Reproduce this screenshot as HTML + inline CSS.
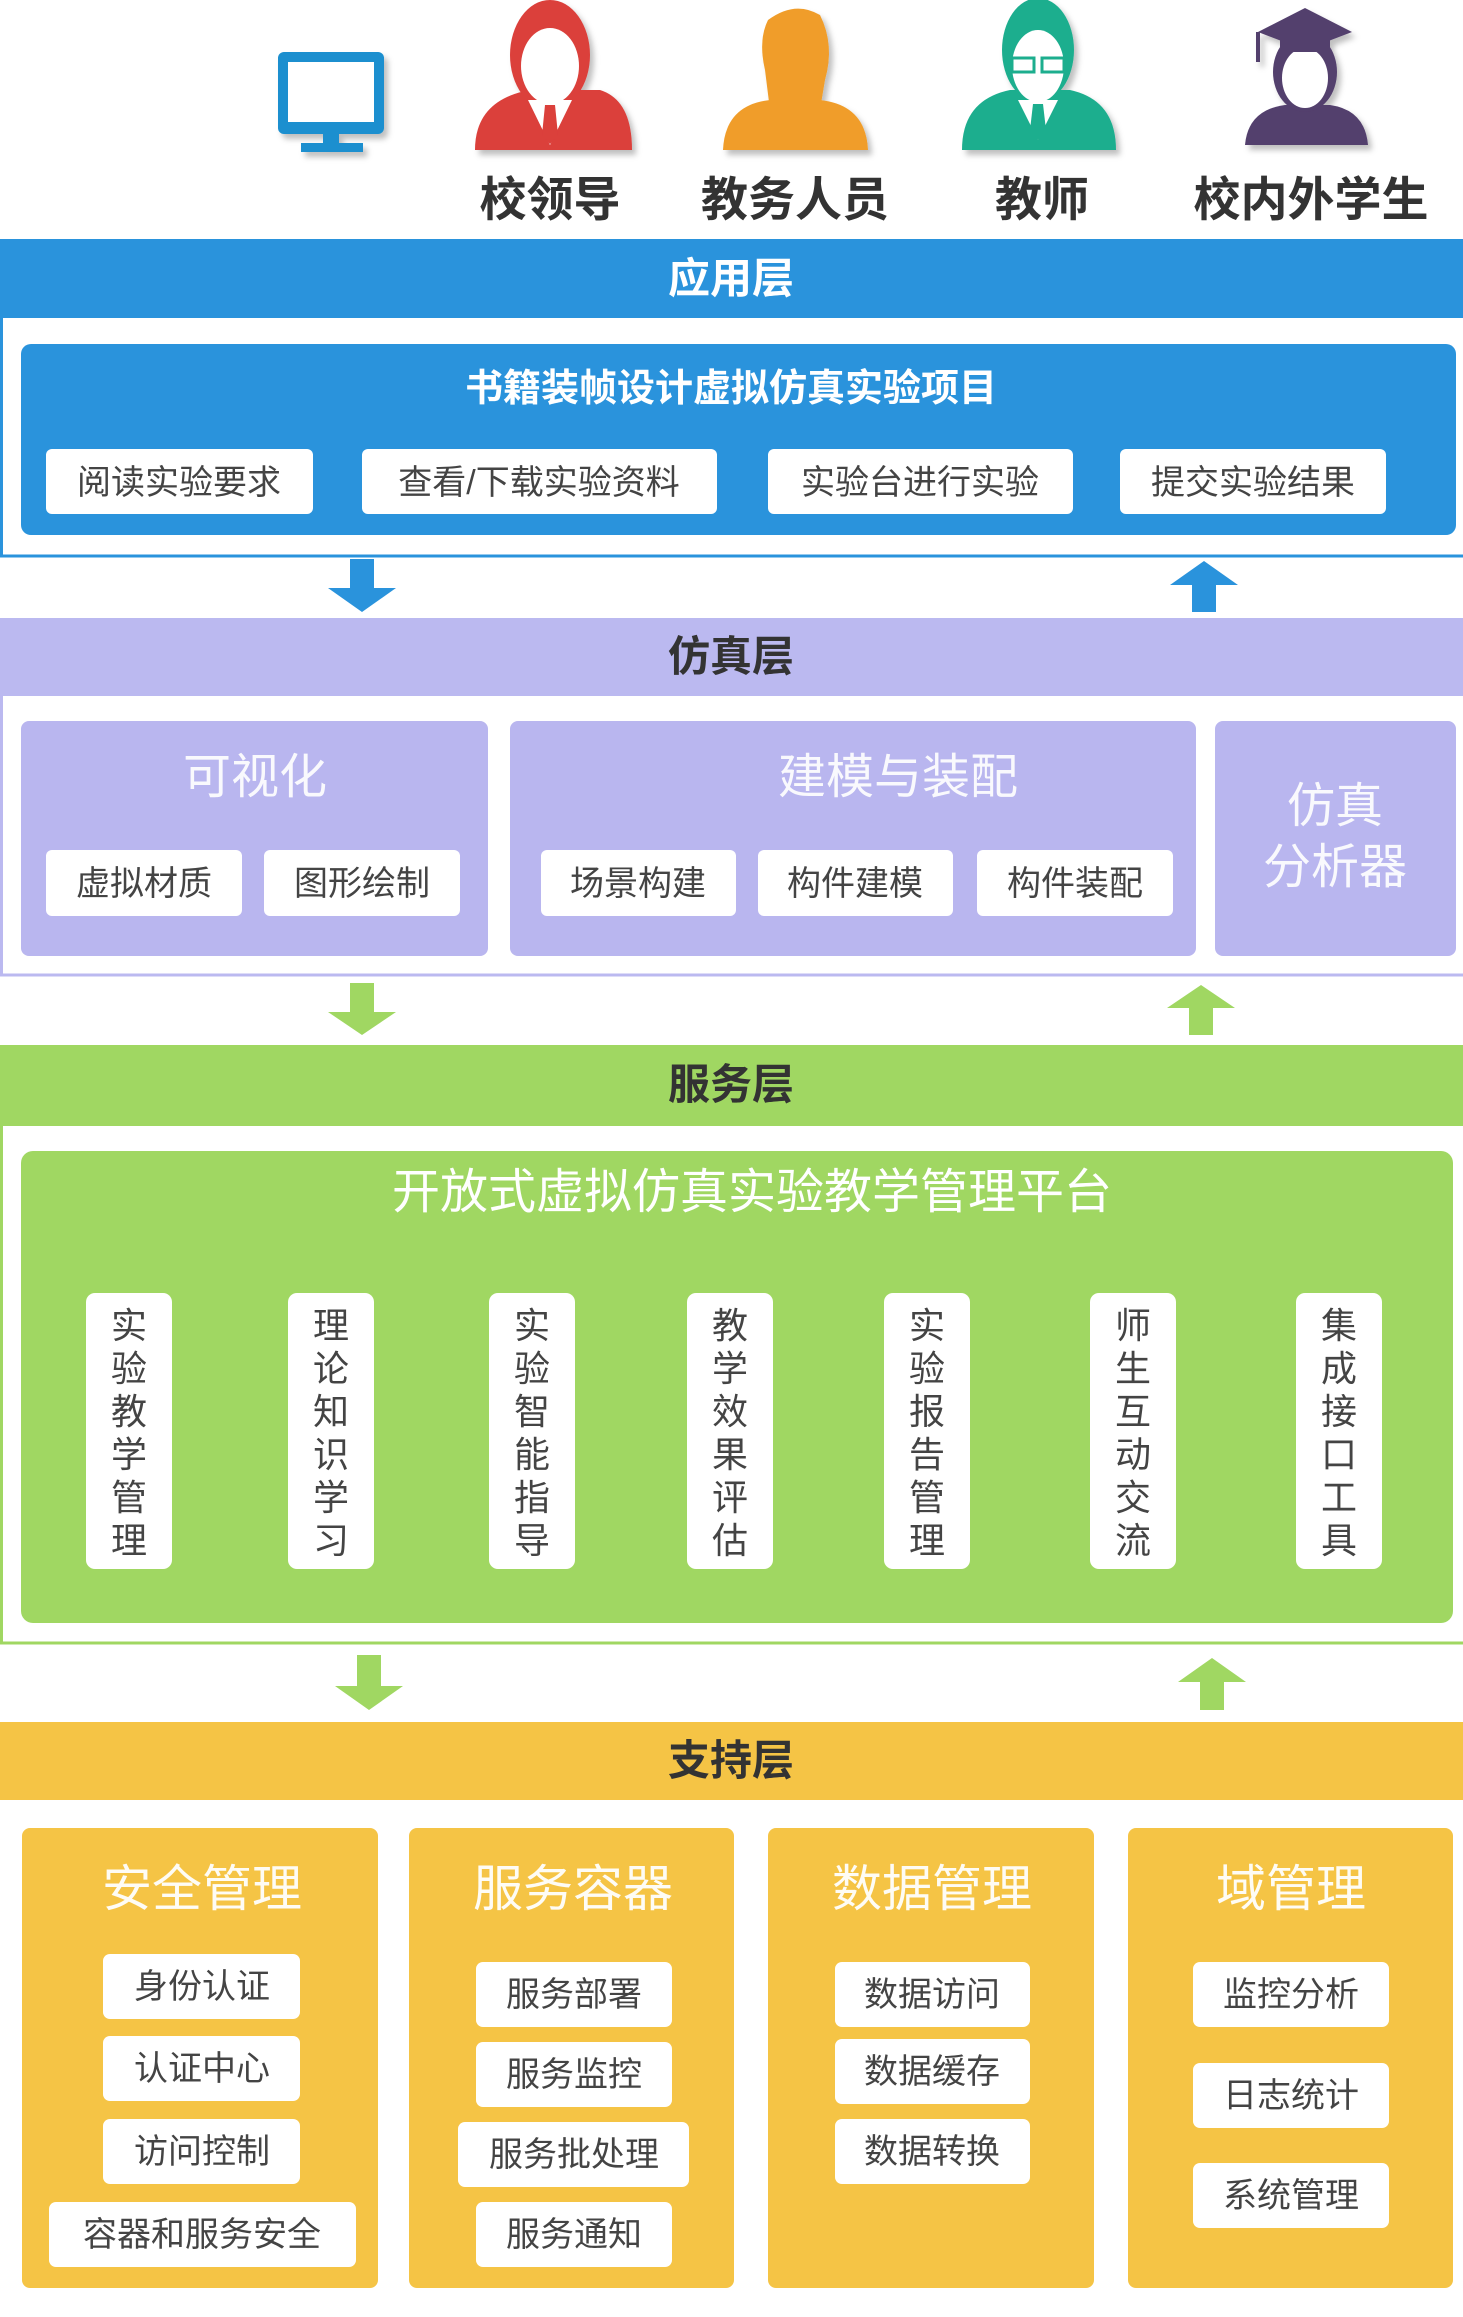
<!DOCTYPE html>
<html><head><meta charset="utf-8"><style>
html,body{margin:0;padding:0;background:#fff}
svg{display:block}
text{font-family:"Liberation Sans","Noto Sans CJK SC",sans-serif}
</style></head><body>
<svg width="1463" height="2317" viewBox="0 0 1463 2317" xmlns="http://www.w3.org/2000/svg">
<defs>
<filter id="sh" x="-10%" y="-10%" width="130%" height="130%"><feDropShadow dx="4" dy="5" stdDeviation="3" flood-color="#000" flood-opacity="0.25"/></filter>
</defs>
<!-- Icons -->
<g filter="url(#sh)">
<rect x="278" y="52" width="106" height="82" rx="6" fill="#1a8fcf"/>
<rect x="288" y="62" width="86" height="60" fill="#fff"/>
<rect x="323" y="134" width="16" height="12" fill="#1a8fcf"/>
<rect x="301" y="143" width="62" height="9" fill="#1a8fcf"/>
<!-- red leader -->
<path d="M475 150 Q475 100 530 90 L600 90 Q632 100 632 150 Z" fill="#db3f3b"/>
<ellipse cx="550" cy="55" rx="40" ry="55" fill="#db3f3b"/>
<ellipse cx="550" cy="66" rx="29" ry="38" fill="#fff"/>
<path d="M528 100 L550 145 L572 100 Z" fill="#fff"/>
<path d="M545 105 L555 105 L558 135 L550 144 L542 135 Z" fill="#db3f3b"/>
<!-- orange staff -->
<path d="M723 150 Q725 105 770 100 L820 100 Q866 105 868 150 Z" fill="#f09d2a"/>
<path d="M768 20 Q795 0 820 15 Q835 45 825 80 L820 110 L770 110 L765 70 Q758 40 768 20 Z" fill="#f09d2a"/>
<!-- green teacher -->
<path d="M962 150 Q962 100 1010 90 L1070 90 Q1116 100 1116 150 Z" fill="#1dae8e"/>
<ellipse cx="1038" cy="50" rx="36" ry="52" fill="#1dae8e"/>
<ellipse cx="1038" cy="66" rx="26" ry="36" fill="#fff"/>
<path d="M1018 100 L1038 140 L1058 100 Z" fill="#fff"/>
<path d="M1033 104 L1043 104 L1046 130 L1038 140 L1030 130 Z" fill="#1dae8e"/>
<rect x="1012" y="58" width="22" height="14" fill="none" stroke="#1dae8e" stroke-width="3"/>
<rect x="1042" y="58" width="22" height="14" fill="none" stroke="#1dae8e" stroke-width="3"/>
<!-- purple student -->
<path d="M1245 145 Q1248 110 1285 105 L1330 105 Q1365 110 1368 145 Z" fill="#533f6d"/>
<ellipse cx="1305" cy="72" rx="32" ry="40" fill="#533f6d"/>
<ellipse cx="1305" cy="78" rx="23" ry="30" fill="#fff"/>
<path d="M1305 8 L1352 32 L1305 50 L1258 32 Z" fill="#533f6d"/>
<rect x="1280" y="38" width="50" height="14" fill="#533f6d"/>
<rect x="1256" y="32" width="4" height="30" fill="#533f6d"/>
</g>
<g font-size="47" font-weight="bold" fill="#333" text-anchor="middle">
<text x="550" y="216">校领导</text>
<text x="795" y="216">教务人员</text>
<text x="1042" y="216">教师</text>
<text x="1311" y="216">校内外学生</text>
</g>

<!-- Application layer -->
<rect x="0" y="239" width="1463" height="79" fill="#2a93dc"/>
<text x="731" y="293" font-size="42" font-weight="bold" fill="#fff" text-anchor="middle">应用层</text>
<path d="M1.5 318 V556 H1463" fill="none" stroke="#2a93dc" stroke-width="3"/>
<rect x="21" y="344" width="1435" height="191" rx="10" fill="#2a93dc"/>
<text x="731" y="401" font-size="38" font-weight="bold" fill="#fff" text-anchor="middle">书籍装帧设计虚拟仿真实验项目</text>
<g fill="#fff"><rect x="46" y="449" width="267" height="65" rx="6"/><rect x="362" y="449" width="355" height="65" rx="6"/><rect x="768" y="449" width="305" height="65" rx="6"/><rect x="1120" y="449" width="266" height="65" rx="6"/></g>
<g font-size="34" fill="#444" text-anchor="middle">
<text x="179" y="494">阅读实验要求</text><text x="539" y="494">查看/下载实验资料</text><text x="920" y="494">实验台进行实验</text><text x="1253" y="494">提交实验结果</text>
</g>
<polygon points="350,559 374,559 374,588 396,588 362,612 328,588 350,588" fill="#2a93dc"/>
<polygon points="1192,612 1216,612 1216,585 1238,585 1204,561 1170,585 1192,585" fill="#2a93dc"/>

<!-- Simulation layer -->
<rect x="0" y="618" width="1463" height="78" fill="#bbb9f0"/>
<text x="731" y="671" font-size="42" font-weight="bold" fill="#333" text-anchor="middle">仿真层</text>
<path d="M1.5 696 V975 H1463" fill="none" stroke="#bbb9f0" stroke-width="3"/>
<g fill="#b9b6ef"><rect x="21" y="721" width="467" height="235" rx="8"/><rect x="510" y="721" width="686" height="235" rx="8"/><rect x="1215" y="721" width="241" height="235" rx="8"/></g>
<g font-size="48" fill="#fff" text-anchor="middle" opacity="0.92">
<text x="255" y="793">可视化</text><text x="898" y="793">建模与装配</text><text x="1335" y="822">仿真</text><text x="1335" y="883">分析器</text>
</g>
<g fill="#fff"><rect x="46" y="850" width="196" height="66" rx="6"/><rect x="264" y="850" width="196" height="66" rx="6"/><rect x="541" y="850" width="195" height="66" rx="6"/><rect x="758" y="850" width="195" height="66" rx="6"/><rect x="977" y="850" width="196" height="66" rx="6"/></g>
<g font-size="34" fill="#444" text-anchor="middle">
<text x="144" y="895">虚拟材质</text><text x="362" y="895">图形绘制</text><text x="638" y="895">场景构建</text><text x="855" y="895">构件建模</text><text x="1075" y="895">构件装配</text>
</g>
<polygon points="350,983 374,983 374,1012 396,1012 362,1035 328,1012 350,1012" fill="#a0d762"/>
<polygon points="1189,1035 1213,1035 1213,1008 1235,1008 1201,985 1167,1008 1189,1008" fill="#a0d762"/>

<!-- Service layer -->
<rect x="0" y="1045" width="1463" height="81" fill="#a0d762"/>
<text x="731" y="1099" font-size="42" font-weight="bold" fill="#333" text-anchor="middle">服务层</text>
<path d="M1.5 1126 V1643 H1463" fill="none" stroke="#a0d762" stroke-width="3"/>
<rect x="21" y="1151" width="1432" height="472" rx="12" fill="#a0d762"/>
<text x="752" y="1208" font-size="48" fill="#fff" text-anchor="middle">开放式虚拟仿真实验教学管理平台</text>
<g fill="#fff">
<rect x="86" y="1293" width="86" height="276" rx="9"/><rect x="288" y="1293" width="86" height="276" rx="9"/><rect x="489" y="1293" width="86" height="276" rx="9"/><rect x="687" y="1293" width="86" height="276" rx="9"/><rect x="884" y="1293" width="86" height="276" rx="9"/><rect x="1090" y="1293" width="86" height="276" rx="9"/><rect x="1296" y="1293" width="86" height="276" rx="9"/>
</g>
<g font-size="36" fill="#444" text-anchor="middle">
<text x="129" y="1338">实</text><text x="129" y="1381">验</text><text x="129" y="1424">教</text><text x="129" y="1467">学</text><text x="129" y="1510">管</text><text x="129" y="1553">理</text>
<text x="331" y="1338">理</text><text x="331" y="1381">论</text><text x="331" y="1424">知</text><text x="331" y="1467">识</text><text x="331" y="1510">学</text><text x="331" y="1553">习</text>
<text x="532" y="1338">实</text><text x="532" y="1381">验</text><text x="532" y="1424">智</text><text x="532" y="1467">能</text><text x="532" y="1510">指</text><text x="532" y="1553">导</text>
<text x="730" y="1338">教</text><text x="730" y="1381">学</text><text x="730" y="1424">效</text><text x="730" y="1467">果</text><text x="730" y="1510">评</text><text x="730" y="1553">估</text>
<text x="927" y="1338">实</text><text x="927" y="1381">验</text><text x="927" y="1424">报</text><text x="927" y="1467">告</text><text x="927" y="1510">管</text><text x="927" y="1553">理</text>
<text x="1133" y="1338">师</text><text x="1133" y="1381">生</text><text x="1133" y="1424">互</text><text x="1133" y="1467">动</text><text x="1133" y="1510">交</text><text x="1133" y="1553">流</text>
<text x="1339" y="1338">集</text><text x="1339" y="1381">成</text><text x="1339" y="1424">接</text><text x="1339" y="1467">口</text><text x="1339" y="1510">工</text><text x="1339" y="1553">具</text>
</g>
<polygon points="357,1655 381,1655 381,1686 403,1686 369,1710 335,1686 357,1686" fill="#a0d762"/>
<polygon points="1200,1710 1224,1710 1224,1682 1246,1682 1212,1658 1178,1682 1200,1682" fill="#a0d762"/>

<!-- Support layer -->
<rect x="0" y="1722" width="1463" height="78" fill="#f5c445"/>
<text x="731" y="1775" font-size="42" font-weight="bold" fill="#333" text-anchor="middle">支持层</text>
<g fill="#f5c445"><rect x="22" y="1828" width="356" height="460" rx="8"/><rect x="409" y="1828" width="325" height="460" rx="8"/><rect x="768" y="1828" width="326" height="460" rx="8"/><rect x="1128" y="1828" width="325" height="460" rx="8"/></g>
<g font-size="50" fill="#fff" text-anchor="middle" opacity="0.95">
<text x="202" y="1906">安全管理</text><text x="573" y="1906">服务容器</text><text x="932" y="1906">数据管理</text><text x="1291" y="1906">域管理</text>
</g>
<g fill="#fff">
<rect x="103" y="1954" width="197" height="65" rx="7"/><rect x="103" y="2036" width="197" height="65" rx="7"/><rect x="103" y="2119" width="197" height="65" rx="7"/><rect x="49" y="2202" width="307" height="65" rx="7"/>
<rect x="476" y="1962" width="196" height="65" rx="7"/><rect x="476" y="2042" width="196" height="65" rx="7"/><rect x="458" y="2122" width="231" height="65" rx="7"/><rect x="476" y="2202" width="196" height="65" rx="7"/>
<rect x="835" y="1962" width="195" height="65" rx="7"/><rect x="835" y="2039" width="195" height="65" rx="7"/><rect x="835" y="2119" width="195" height="65" rx="7"/>
<rect x="1193" y="1962" width="196" height="65" rx="7"/><rect x="1193" y="2063" width="196" height="65" rx="7"/><rect x="1193" y="2163" width="196" height="65" rx="7"/>
</g>
<g font-size="34" fill="#444" text-anchor="middle">
<text x="202" y="1998">身份认证</text><text x="202" y="2080">认证中心</text><text x="202" y="2163">访问控制</text><text x="202" y="2246">容器和服务安全</text>
<text x="574" y="2006">服务部署</text><text x="574" y="2086">服务监控</text><text x="574" y="2166">服务批处理</text><text x="574" y="2246">服务通知</text>
<text x="932" y="2006">数据访问</text><text x="932" y="2083">数据缓存</text><text x="932" y="2163">数据转换</text>
<text x="1291" y="2006">监控分析</text><text x="1291" y="2107">日志统计</text><text x="1291" y="2207">系统管理</text>
</g>
</svg>
</body></html>
